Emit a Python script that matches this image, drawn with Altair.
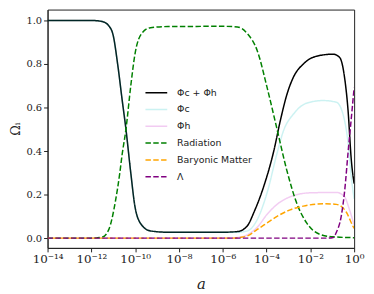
import altair as alt
import pandas as pd

# log10(a) sample points and Omega values for each component
black_loga = [-14, -12, -11.5, -11.2, -11.0, -10.8, -10.6, -10.42, -10.2, -10.0, -9.7, -9.3, -8.5, -6.0,
              -5.33, -4.88, -4.57, -4.12, -3.67, -3.37, -3.07, -2.77, -2.32, -1.71, -0.96, -0.66, -0.44, -0.28, -0.13, 0.0]
black_om = [1.0, 1.0, 0.995, 0.975, 0.93, 0.80, 0.64, 0.50, 0.30, 0.14, 0.06, 0.033, 0.027, 0.027,
            0.03, 0.056, 0.12, 0.24, 0.40, 0.54, 0.66, 0.74, 0.80, 0.836, 0.845, 0.83, 0.74, 0.59, 0.36, 0.25]

cyan_loga = [-14, -12, -11.5, -11.2, -11.0, -10.8, -10.6, -10.42, -10.2, -10.0, -9.7, -9.3, -8.5, -6.0,
             -5.33, -4.88, -4.42, -3.97, -3.52, -3.22, -2.77, -2.17, -1.41, -0.81, -0.51, -0.28, -0.13, 0.0]
cyan_om = [1.0, 1.0, 0.995, 0.975, 0.93, 0.80, 0.64, 0.50, 0.30, 0.14, 0.06, 0.033, 0.027, 0.027,
           0.027, 0.033, 0.086, 0.21, 0.39, 0.495, 0.57, 0.62, 0.632, 0.624, 0.57, 0.44, 0.28, 0.18]

pink_loga = [-14, -6.0, -5.33, -4.88, -4.42, -3.97, -3.52, -2.92, -2.02, -0.81, -0.44, -0.21, 0.0]
pink_om = [0.0, 0.0, 0.003, 0.015, 0.05, 0.11, 0.155, 0.19, 0.208, 0.21, 0.19, 0.13, 0.06]

rad_loga = [-14, -12, -11.5, -11.2, -10.9, -10.7, -10.6, -10.42, -10.2, -10.0, -9.7, -9.3, -8.5, -6.0,
            -5.33, -4.88, -4.42, -3.97, -3.52, -3.07, -2.62, -2.17, -1.58, -0.96, 0.0]
rad_om = [0.0, 0.0, 0.005, 0.04, 0.17, 0.30, 0.38, 0.50, 0.70, 0.85, 0.94, 0.967, 0.972, 0.973,
          0.97, 0.94, 0.86, 0.69, 0.50, 0.31, 0.16, 0.07, 0.018, 0.006, 0.002]

bar_loga = [-14, -5.5, -5.2, -4.88, -4.42, -3.97, -3.52, -2.92, -2.32, -1.41, -0.81, -0.36, -0.06, 0.0]
bar_om = [0.0, 0.0, 0.003, 0.01, 0.04, 0.07, 0.10, 0.13, 0.147, 0.158, 0.155, 0.12, 0.056, 0.045]

lam_loga = [-14, -1.2, -0.96, -0.81, -0.59, -0.44, -0.28, -0.13, 0.0]
lam_om = [0.0, 0.0, 0.003, 0.027, 0.10, 0.21, 0.39, 0.55, 0.69]

series_names = ["Φc + Φh", "Φc", "Φh", "Radiation", "Baryonic Matter", "Λ"]
series_colors = ["#000000", "#00bfbf", "#bf00bf", "#008000", "#ffa500", "#800080"]
series_opac = [1.0, 0.2, 0.2, 1.0, 1.0, 1.0]
series_dash = [[1, 0], [1, 0], [1, 0], [5.5, 2.4], [5.5, 2.4], [5.5, 2.4]]

xticks = [1e-14, 1e-12, 1e-10, 1e-8, 1e-6, 1e-4, 1e-2, 1]
xtick_labels = ["10⁻¹⁴", "10⁻¹²", "10⁻¹⁰", "10⁻⁸", "10⁻⁶", "10⁻⁴", "10⁻²", "10⁰"]

all_data = [
    (series_names[0], black_loga, black_om),
    (series_names[1], cyan_loga, cyan_om),
    (series_names[2], pink_loga, pink_om),
    (series_names[3], rad_loga, rad_om),
    (series_names[4], bar_loga, bar_om),
    (series_names[5], lam_loga, lam_om),
]

expr = ""
for v, lab in zip(xticks[:-1], xtick_labels[:-1]):
    expr += f"datum.value < {v*3:g} ? '{lab}' : "
expr += f"'{xtick_labels[-1]}'"

layers = []
for i, (name, la, om) in enumerate(all_data):
    df = pd.DataFrame({"a": [10.0 ** v for v in la], "om": om, "series": name})
    mark = alt.Chart(df).mark_line(strokeWidth=1.5, interpolate="monotone",
                                   strokeDashOffset=3 if name == "Baryonic Matter" else 0,
                                   clip=True)
    layers.append(mark.encode(
        x=alt.X("a:Q", scale=alt.Scale(type="log", domain=[1e-14, 1]),
                axis=alt.Axis(values=xticks, labelExpr=expr, title="a", grid=False)),
        y=alt.Y("om:Q", scale=alt.Scale(domain=[-0.045, 1.05], nice=False, zero=False),
                axis=alt.Axis(values=[0, 0.2, 0.4, 0.6, 0.8, 1.0], format=".1f", title="Ωᵢ", grid=False)),
        color=alt.Color("series:N", scale=alt.Scale(domain=series_names, range=series_colors),
                        legend=alt.Legend(title=None)),
        opacity=alt.Opacity("series:N", scale=alt.Scale(type="ordinal", domain=series_names, range=series_opac),
                            legend=alt.Legend(title=None)),
        strokeDash=alt.StrokeDash("series:N", scale=alt.Scale(domain=series_names, range=series_dash),
                                  legend=alt.Legend(title=None)),
    ))

chart = alt.layer(*layers).properties(
    width=310, height=241,
    autosize=alt.AutoSizeParams(type="none"),
    padding={"left": 40, "top": 0, "right": 12, "bottom": 44},
).configure_view(stroke="#222222", strokeWidth=1).configure_axis(
    domainColor="#222222", tickColor="#222222", labelColor="#222222", titleColor="#222222",
    labelFont="DejaVu Serif", labelFontSize=10, tickSize=4, labelPadding=2,
    titleFont="DejaVu Serif", titleFontWeight="normal",
).configure_axisX(labelFontSize=12, titleFontSize=15, titleFontStyle="italic", titlePadding=12, labelFlush=False
).configure_axisY(titleFontSize=13, titlePadding=3
).configure_legend(
    orient="none", legendX=98, legendY=72, padding=0,
    labelFont="DejaVu Sans", labelFontSize=9.5, labelColor="#222222",
    symbolType="stroke", symbolSize=484, symbolStrokeWidth=1.5, rowPadding=-6, labelOffset=9,
)

chart.save("out.html", embed_options={"renderer": "svg", "actions": False})
